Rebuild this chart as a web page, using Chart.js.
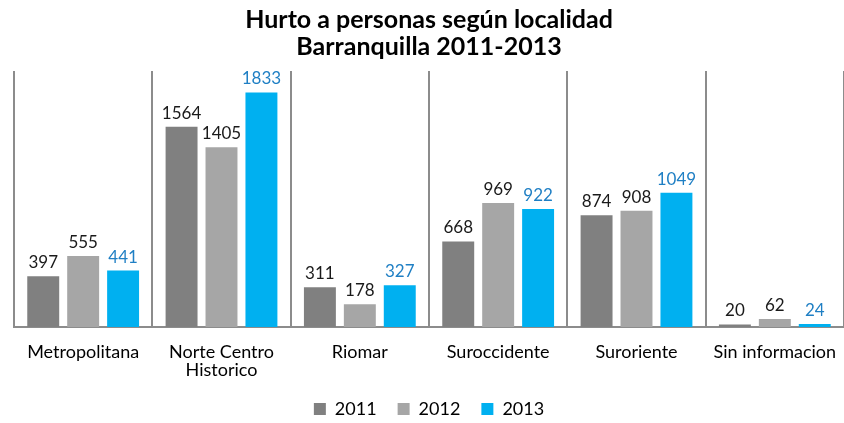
<!DOCTYPE html>
<html>
<head>
<meta charset="utf-8">
<script src="https://cdn.jsdelivr.net/npm/chart.js@4"></script>
<style>
  body { margin: 0; background: #fff; }
  #wrap { width: 844px; height: 423px; }
</style>
</head>
<body>
<div id="wrap"><canvas id="barChart"></canvas></div>
<script>
var localidades = ['Metropolitana', ['Norte Centro', 'Historico'], 'Riomar', 'Suroccidente', 'Suroriente', 'Sin informacion'];
var hurtos2011 = [397, 1564, 311, 668, 874, 20];
var hurtos2012 = [555, 1405, 178, 969, 908, 62];
var hurtos2013 = [441, 1833, 327, 922, 1049, 24];

// etiquetas de valor encima de cada barra
var valueLabels = {
    id: 'valueLabels',
    afterDatasetsDraw: function (chart) {
        var ctx = chart.ctx;
        ctx.save();
        ctx.font = '17px Lato';
        ctx.textAlign = 'center';
        ctx.textBaseline = 'bottom';
        chart.data.datasets.forEach(function (ds, i) {
            var meta = chart.getDatasetMeta(i);
            ctx.fillStyle = i === 2 ? '#1f7fc4' : '#1a1a1a';
            meta.data.forEach(function (bar, j) {
                ctx.fillText(ds.data[j], bar.x, bar.y - 5);
            });
        });
        ctx.restore();
    }
};

new Chart(document.querySelector('#barChart'), {
    type: 'bar',
    data: {
        labels: localidades,
        datasets: [
            { label: '2011', data: hurtos2011, backgroundColor: '#808080' },
            { label: '2012', data: hurtos2012, backgroundColor: '#a6a6a6' },
            { label: '2013', data: hurtos2013, backgroundColor: '#00b0f0' }
        ]
    },
    options: {
        responsive: true,
        maintainAspectRatio: false,
        animation: false,
        categoryPercentage: 0.866,
        barPercentage: 0.8,
        layout: { padding: { left: 14, right: 0, top: 0, bottom: 0 } },
        plugins: {
            title: {
                display: true,
                text: ['Hurto a personas según localidad', 'Barranquilla 2011-2013'],
                color: '#000',
                font: { family: 'Lato', size: 25, weight: 'bold', lineHeight: 1.08 },
                padding: { top: 6, bottom: 11 }
            },
            legend: {
                position: 'bottom',
                maxHeight: 44,
                labels: {
                    color: '#000',
                    boxWidth: 12,
                    boxHeight: 12,
                    padding: 21,
                    font: { family: 'Lato', size: 18 }
                }
            },
            tooltip: { enabled: false }
        },
        scales: {
            x: {
                grid: { color: '#8c8c8c', lineWidth: 2, drawTicks: false, offset: true },
                border: { color: '#8c8c8c', width: 2 },
                ticks: { color: '#000', padding: 16, font: { family: 'Lato', size: 18, lineHeight: 1.0 } },
                afterFit: function (scale) {
                    scale.height = 52;
                    scale.paddingLeft = 0;
                    scale.paddingRight = 0;
                }
            },
            y: {
                display: false,
                min: 0,
                max: 2000
            }
        }
    },
    plugins: [valueLabels]
});
</script>
</body>
</html>
